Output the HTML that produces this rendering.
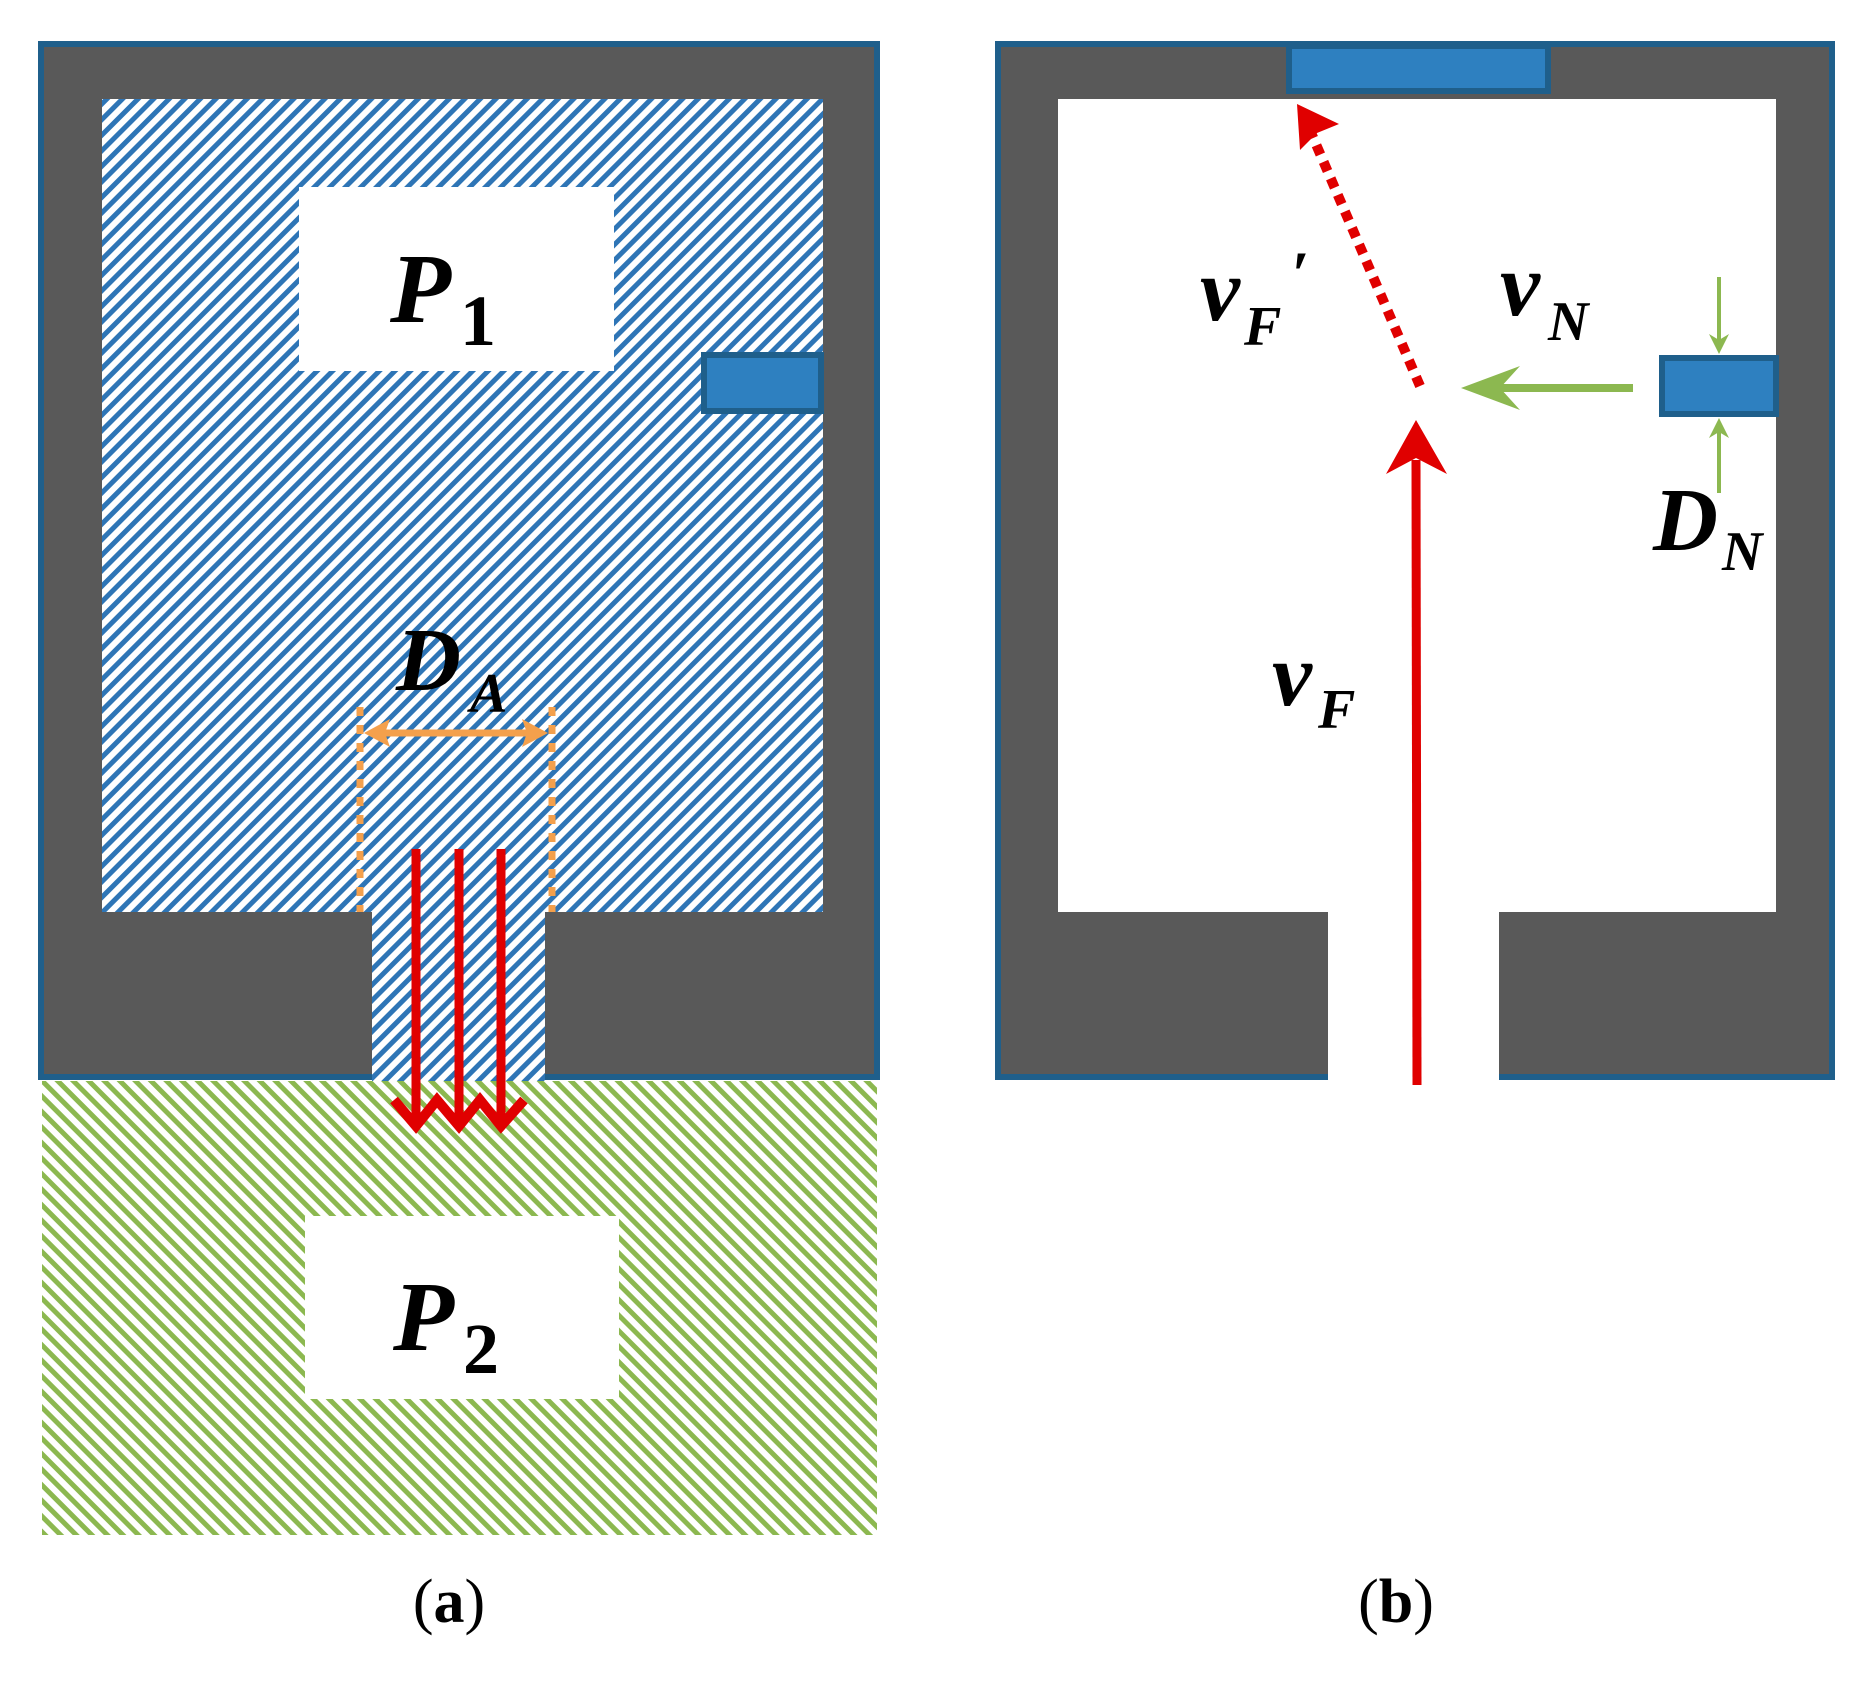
<!DOCTYPE html>
<html><head><style>body{margin:0;background:#fff}svg{display:block}</style></head><body>
<svg width="1853" height="1682" viewBox="0 0 1853 1682" xmlns="http://www.w3.org/2000/svg" font-family="Liberation Serif, serif">
<defs>
<pattern id="pb" width="11" height="11" patternUnits="userSpaceOnUse" patternTransform="rotate(45)">
<rect width="11" height="11" fill="#fff"/><rect width="5" height="11" fill="#2e75b6"/></pattern>
<pattern id="pg" width="11" height="11" patternUnits="userSpaceOnUse" patternTransform="rotate(-45)">
<rect width="11" height="11" fill="#fff"/><rect width="5" height="11" fill="#8cb850"/></pattern>
</defs>
<!-- (a) -->
<rect x="42" y="1081" width="835" height="454" fill="url(#pg)"/>
<rect x="41" y="44" width="836" height="1033" fill="#595959" stroke="#1f5f8b" stroke-width="6"/>
<rect x="102" y="99" width="721" height="813" fill="url(#pb)"/>
<rect x="372" y="905" width="173" height="176" fill="url(#pb)"/>
<rect x="299" y="187" width="315" height="184" fill="#fff"/>
<text x="390" y="322" font-size="100" font-weight="bold" font-style="italic">P</text>
<text x="460" y="345" font-size="72" font-weight="bold">1</text>
<rect x="704" y="355" width="117" height="56" fill="#2e80c0" stroke="#1f5f8b" stroke-width="6"/>
<text x="396" y="690" font-size="90" font-weight="bold" font-style="italic">D</text>
<text x="470" y="712" font-size="56" font-weight="bold" font-style="italic">A</text>
<line x1="360" y1="707" x2="360" y2="912" stroke="#f4a04c" stroke-width="7" stroke-dasharray="9,9"/>
<line x1="552" y1="707" x2="552" y2="912" stroke="#f4a04c" stroke-width="7" stroke-dasharray="9,9"/>
<line x1="378" y1="733" x2="534" y2="733" stroke="#f4a04c" stroke-width="7"/>
<polygon points="364,733 390,719 385,733 390,747" fill="#f4a04c"/>
<polygon points="548,733 522,719 527,733 522,747" fill="#f4a04c"/>
<g stroke="#e00000" stroke-width="9" fill="none">
<line x1="416" y1="849" x2="416" y2="1120"/><line x1="459" y1="849" x2="459" y2="1120"/><line x1="501" y1="849" x2="501" y2="1120"/>
<polyline points="394,1100 416,1126 437,1100 459,1126 480,1100 501,1126 524,1100" stroke-width="10"/>
</g>
<rect x="305" y="1216" width="314" height="183" fill="#fff"/>
<text x="393" y="1350" font-size="100" font-weight="bold" font-style="italic">P</text>
<text x="463" y="1373" font-size="72" font-weight="bold">2</text>
<text x="449" y="1622" font-size="62" text-anchor="middle">(<tspan font-weight="bold">a</tspan>)</text>
<!-- (b) -->
<rect x="998" y="44" width="834" height="1033" fill="#595959" stroke="#1f5f8b" stroke-width="6"/>
<rect x="1058" y="99" width="718" height="813" fill="#fff"/>
<rect x="1328" y="905" width="171" height="180" fill="#fff"/>
<rect x="1289" y="46" width="259" height="45" fill="#2e80c0" stroke="#1f5f8b" stroke-width="6"/>
<rect x="1662" y="358" width="114" height="56" fill="#2e80c0" stroke="#1f5f8b" stroke-width="6"/>
<line x1="1417" y1="1085" x2="1416" y2="460" stroke="#e00000" stroke-width="9"/>
<polygon points="1416,420 1447,474 1416,458 1386,474" fill="#e00000"/>
<line x1="1420" y1="386" x2="1312" y2="135" stroke="#e00000" stroke-width="10" stroke-dasharray="10,8"/>
<polygon points="1297,104 1339,124 1317,133 1300,150" fill="#e00000"/>
<line x1="1633" y1="388" x2="1495" y2="388" stroke="#8cb850" stroke-width="8"/>
<polygon points="1461,388 1520,366 1500,388 1520,410" fill="#8cb850"/>
<line x1="1719" y1="277" x2="1719" y2="340" stroke="#8cb850" stroke-width="4"/>
<polygon points="1719,354 1709,334 1719,340 1729,334" fill="#8cb850"/>
<line x1="1719" y1="493" x2="1719" y2="432" stroke="#8cb850" stroke-width="4"/>
<polygon points="1719,418 1709,438 1719,432 1729,438" fill="#8cb850"/>
<text x="1200" y="320" font-size="90" font-weight="bold" font-style="italic">v</text>
<text x="1244" y="345" font-size="56" font-weight="bold" font-style="italic">F</text>
<text x="1292" y="295" font-size="64" font-weight="bold">′</text>
<text x="1500" y="315" font-size="90" font-weight="bold" font-style="italic">v</text>
<text x="1548" y="340" font-size="56" font-weight="bold" font-style="italic">N</text>
<text x="1653" y="550" font-size="90" font-weight="bold" font-style="italic">D</text>
<text x="1722" y="570" font-size="56" font-weight="bold" font-style="italic">N</text>
<text x="1272" y="705" font-size="90" font-weight="bold" font-style="italic">v</text>
<text x="1318" y="728" font-size="56" font-weight="bold" font-style="italic">F</text>
<text x="1396" y="1622" font-size="62" text-anchor="middle">(<tspan font-weight="bold">b</tspan>)</text>
</svg>
</body></html>
